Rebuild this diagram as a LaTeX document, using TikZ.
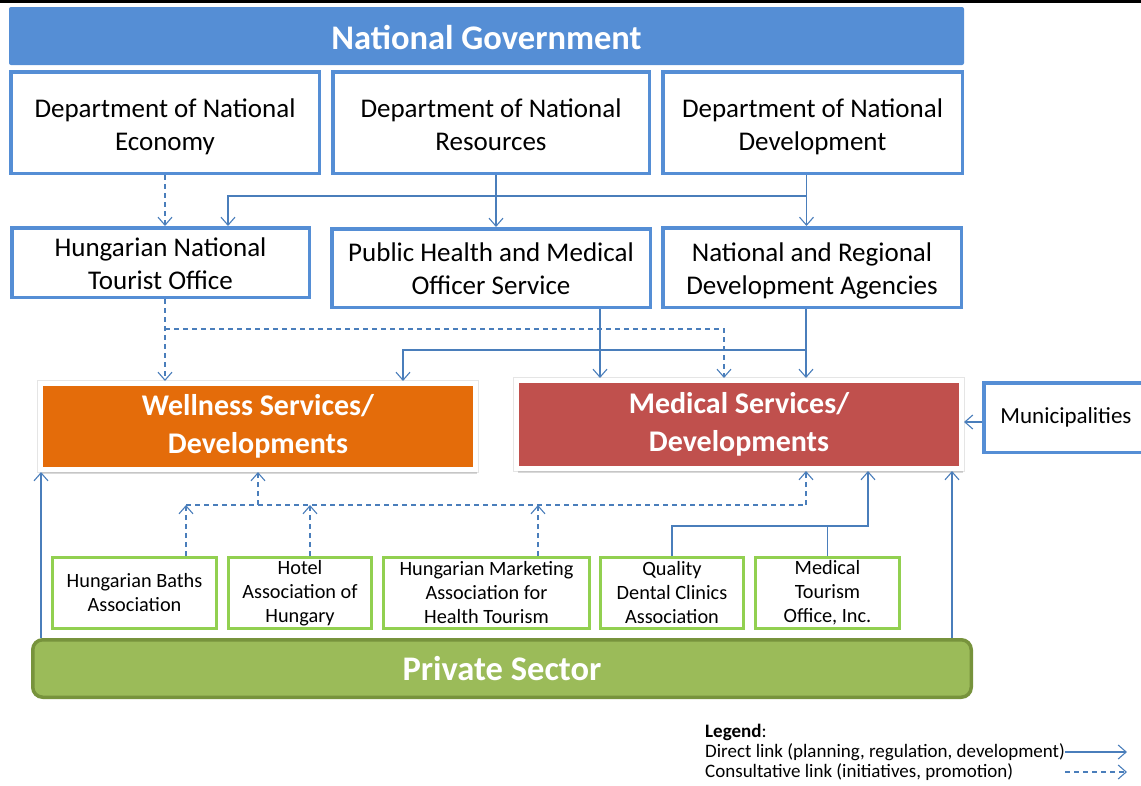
\documentclass[tikz,border=0pt]{standalone}
\usepackage{fontspec}
\setmainfont{Carlito}
\usetikzlibrary{arrows.meta,shadows,calc}
\definecolor{govblue}{HTML}{558ED5}
\definecolor{bordblue}{HTML}{558ED5}
\definecolor{linkblue}{HTML}{4A7EBB}
\definecolor{wellorange}{HTML}{E46C0A}
\definecolor{medred}{HTML}{C0504D}
\definecolor{grnbord}{HTML}{92D050}
\definecolor{privfill}{HTML}{9BBB59}
\definecolor{privbord}{HTML}{77933C}
\newcommand{\lowtwo}[2]{\raisebox{-#1}[\height][\depth]{\begin{tabular}{@{}c@{}}#2\end{tabular}}}
\begin{document}
\begin{tikzpicture}[x=1pt,y=-1pt,
  bluebox/.style={draw=bordblue, line width=3.5pt, fill=white, inner sep=0pt, align=center, font=\fontsize{27}{33}\selectfont},
  greenbox/.style={draw=grnbord, line width=3pt, fill=white, inner sep=0pt, align=center, minimum height=71pt, font=\fontsize{20.3}{24}\selectfont},
  svcbox/.style={draw=white, line width=5pt, inner sep=0pt, align=center, text=white, font=\bfseries\fontsize{30}{38}\selectfont, preaction={draw=black!10, line width=7pt}, drop shadow={shadow xshift=1pt, shadow yshift=-4pt, opacity=0.3}},
  direct/.style={draw=linkblue, line width=1.1pt, -{Straight Barb[length=8pt,width=14pt]}},
  plainlink/.style={draw=linkblue, line width=1.1pt},
  consult/.style={direct, dash pattern=on 5pt off 4pt},
  legtext/.style={anchor=west, inner sep=0pt, font=\fontsize{19}{20}\selectfont}
]
\useasboundingbox (0,0) rectangle (1141,785);
\clip (0,0) rectangle (1141,785);
\fill[black] (0,0) rectangle (1141,3);

% top
\node[fill=govblue, rounded corners=2pt, inner sep=0pt, minimum width=955pt, minimum height=58pt, text=white, font=\bfseries\fontsize{34.5}{40}\selectfont] (gov) at (486.5,36) {\raisebox{-1.5pt}[\height][\depth]{National Government}};
\node[bluebox, minimum width=308.5pt, minimum height=101.5pt] (d1) at (165,122.5) {\lowtwo{5pt}{Department of National\\Economy}};
\node[bluebox, minimum width=316.5pt, minimum height=101.5pt] (d2) at (491,122.5) {\lowtwo{5pt}{Department of National\\Resources}};
\node[bluebox, minimum width=299.5pt, minimum height=101.5pt] (d3) at (812.5,122.5) {\lowtwo{5pt}{Department of National\\Development}};

% second row
\node[bluebox, minimum width=297.5pt, minimum height=69.5pt] (hnto) at (160.5,262.5) {\lowtwo{4pt}{Hungarian National\\Tourist Office}};
\node[bluebox, minimum width=318.5pt, minimum height=78.5pt] (phs) at (491,268) {\lowtwo{3pt}{Public Health and Medical\\Officer Service}};
\node[bluebox, minimum width=298.5pt, minimum height=79.5pt] (nrda) at (812,267.5) {\lowtwo{4pt}{National and Regional\\Development Agencies}};

% services
\node[svcbox, fill=wellorange, minimum width=435pt, minimum height=86pt] (well) at (258,426.5) {Wellness Services/\\Developments};
\node[svcbox, fill=medred, minimum width=445pt, minimum height=88pt] (med) at (739,424.5) {Medical Services/\\Developments};
\node[bluebox, font=\fontsize{23}{28}\selectfont, minimum width=164.5pt, minimum height=69.5pt] (muni) at (1066,417.5) {Municipalities};

% associations
\node[greenbox, minimum width=164pt] (baths) at (134.5,593) {Hungarian Baths\\Association};
\node[greenbox, minimum width=143pt] (hotel) at (300,593) {Hotel\\Association of\\Hungary};
\node[greenbox, minimum width=206pt] (mkt) at (486.5,593) {Hungarian Marketing\\Association for\\Health Tourism};
\node[greenbox, minimum width=143pt] (qual) at (672,593) {Quality\\Dental Clinics\\Association};
\node[greenbox, minimum width=144pt] (mto) at (827.5,593) {Medical\\Tourism\\Office, Inc.};

\node[draw=privbord, line width=3.5pt, fill=privfill, rounded corners=10pt, inner sep=0pt, minimum width=938.5pt, minimum height=57.5pt, text=white, font=\bfseries\fontsize{34.5}{40}\selectfont] (priv) at (502,668.5) {Private Sector};

% connectors: ministries -> agencies
\draw[consult] (d1.south) -- (d1.south |- hnto.north);
\coordinate (d3s) at ([xshift=-6pt]d3.south);
\coordinate (j1) at (228,196);
\draw[direct] (d3s) -- (d3s |- nrda.north);
\draw[direct] (d3s |- j1) -- (j1) -- (j1 |- hnto.north);
\coordinate (d2s) at ([xshift=5pt]d2.south);
\draw[direct] (d2s) -- (d2s |- phs.north);

% agencies -> services
\coordinate (hs) at ([xshift=4.5pt]hnto.south);
\coordinate (j2) at (724,329);
\draw[consult] (hs) -- (hs |- well.north);
\draw[consult] (hs |- j2) -- (j2) -- (j2 |- med.north);
\coordinate (ps) at ([xshift=109pt]phs.south);
\draw[direct] (ps) -- (ps |- med.north);
\coordinate (ns) at ([xshift=-6pt]nrda.south);
\coordinate (j3) at (403,350);
\draw[direct] (ns) -- (ns |- med.north);
\draw[direct] (ns |- j3) -- (j3) -- (j3 |- well.north);
\coordinate (mw) at ([yshift=-4.5pt]muni.west);
\draw[direct] (mw) -- (mw -| med.east);

% private sector -> services
\coordinate (p1) at ($(priv.north)+(-461,0)$);
\coordinate (p2) at ($(priv.north)+(450,0)$);
\draw[direct] (p1) -- (p1 |- well.south);
\draw[direct] (p2) -- (p2 |- med.south);

% associations -> services (consultative)
\coordinate (j4) at (186,505);
\coordinate (j5) at (806,505);
\coordinate (bt) at ([xshift=51.5pt]baths.north);
\coordinate (ht) at ([xshift=10pt]hotel.north);
\coordinate (mt) at ([xshift=51.5pt]mkt.north);
\draw[consult] (bt) -- (bt |- j4);
\draw[consult] (ht) -- (ht |- j4);
\draw[consult] (mt) -- (mt |- j4);
\draw[consult, -] (j4) -- (j5);
\draw[consult] (well.south |- j4) -- (well.south);
\draw[consult] (j5) -- (j5 |- med.south);

% associations -> medical (direct)
\coordinate (j6) at (868,526);
\draw[direct] (qual.north) |- (j6) -- (j6 |- med.south);
\draw[plainlink] (mto.north) -- (mto.north |- j6);

% legend
\node[legtext] (lg0) at (705,732) {\textbf{Legend}:};
\node[legtext] (lg1) at (705,752) {Direct link (planning, regulation, development)};
\node[legtext] (lg2) at (705,772) {Consultative link (initiatives, promotion)};
\coordinate (la) at (1127,752);
\coordinate (lb1) at (1065,772);
\coordinate (lb2) at (1127,772);
\draw[direct] (lg1.east) -- (la);
\draw[consult] (lb1) -- (lb2);
\end{tikzpicture}
\end{document}
